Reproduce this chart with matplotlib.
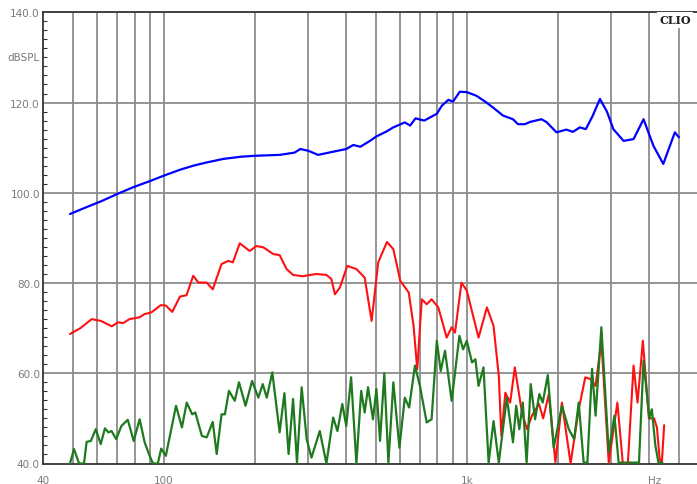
import numpy as np
import matplotlib.pyplot as plt

## DANE ##
# blue curve
blue_f = [49, 55, 62, 70, 79, 90, 100, 113, 125, 138,
          157, 180, 200, 241, 270, 282, 300, 323, 362, 400,
          422, 445, 479, 503, 540, 572, 624, 650, 677, 723,
          796, 827, 869, 900, 948, 1000, 1076, 1150, 1220, 1317,
          1420, 1475, 1555, 1616, 1762, 1830, 1977, 2130, 2240, 2360,
          2470, 2600, 2750, 2900, 3045, 3290, 3550, 3830, 4130, 4450,
          4860, 5010]
blue_db = [95.3, 96.7, 98.1, 99.7, 101.2, 102.6, 103.8, 105.1, 106.0, 106.7,
           107.5, 108.0, 108.2, 108.4, 108.9, 109.7, 109.3, 108.4, 109.1, 109.7,
           110.6, 110.2, 111.5, 112.5, 113.5, 114.5, 115.6, 114.9, 116.5, 116.0,
           117.5, 119.3, 120.6, 120.2, 122.4, 122.3, 121.5, 120.2, 118.9, 117.1,
           116.3, 115.2, 115.2, 115.7, 116.3, 115.7, 113.4, 114.0, 113.5, 114.5,
           114.1, 117.0, 120.8, 118.0, 114.1, 111.5, 111.9, 116.3, 110.4, 106.4,
           113.4, 112.3]

# red curve
red_f = [49, 53, 57.8, 62, 67.3, 70.6, 73.3, 77, 83, 86.3,
         91, 97.7, 101.5, 106.6, 113, 118.8, 125, 130, 138.5, 145,
         155, 163, 169, 178, 192, 202, 213, 230, 241, 254,
         267, 287, 318, 344, 357, 367, 381, 403, 432, 460,
         485, 510, 545, 572, 603, 643, 667, 686, 710, 737,
         765, 805, 858, 891, 914, 960, 1000, 1093, 1165, 1225,
         1275, 1300, 1340, 1390, 1440, 1520, 1580, 1640, 1730, 1786,
         1865, 1960, 2060, 2200, 2340, 2460, 2560, 2660, 2780, 2940,
         3140, 3270, 3400, 3550, 3660, 3810, 3990, 4150, 4240, 4330,
         4400, 4480]
red_db = [68.7, 70.0, 72.0, 71.6, 70.4, 71.3, 71.1, 72.0, 72.4, 73.1,
          73.5, 75.1, 75.0, 73.6, 77.0, 77.3, 81.6, 80.1, 80.1, 78.6,
          84.2, 84.9, 84.6, 88.8, 87.1, 88.2, 87.9, 86.4, 86.2, 83.1,
          81.8, 81.5, 82.0, 81.8, 80.9, 77.5, 79.0, 83.8, 83.1, 81.2,
          71.6, 84.6, 89.1, 87.5, 80.5, 77.9, 70.5, 60.9, 76.4, 75.3,
          76.4, 74.6, 67.9, 70.2, 69.0, 80.1, 78.3, 67.9, 74.6, 70.5,
          59.4, 46.1, 55.7, 53.5, 61.3, 51.3, 47.6, 50.6, 53.2, 50.0,
          55.4, 40.3, 53.5, 40.0, 52.0, 59.1, 58.7, 57.2, 67.2, 40.2,
          53.5, 40.2, 40.0, 61.7, 53.5, 67.2, 50.0, 50.0, 48.0, 41.0,
          40.0, 48.5]

# green curve
green_f = [49, 50.5, 52.5, 54.5, 55.6, 57.4, 59.6, 61.9, 63.9, 65.6,
           67.2, 69.6, 72.4, 76, 79.5, 83.2, 86.4, 89.3, 92, 95.5,
           98, 101.5, 109.7, 114.7, 119, 124, 127, 133.5, 138.5, 145,
           149.4, 155, 159, 164, 171.4, 177, 186, 195.5, 205, 212,
           218.6, 228, 241, 250, 258, 267, 275, 285, 296, 307,
           327, 344, 362, 374, 388, 400, 415, 432, 448, 460,
           472, 490, 503, 517, 534, 551, 572, 599, 624, 645,
           674, 700, 737, 765, 796, 820, 847, 891, 945, 972,
           1000, 1040, 1067, 1093, 1135, 1180, 1225, 1275, 1355, 1420,
           1455, 1490, 1530, 1575, 1625, 1680, 1735, 1780, 1850, 1935,
           2060, 2170, 2260, 2340, 2430, 2500, 2590, 2660, 2780, 2940,
           3070, 3170, 3700, 3830, 4000, 4080, 4190, 4290, 4420]
green_db = [40.0, 43.2, 40.0, 40.0, 44.8, 45.0, 47.6, 44.3, 47.8, 46.9,
            47.2, 45.4, 48.3, 49.7, 45.0, 49.8, 44.7, 42.1, 40.0, 40.0,
            43.3, 41.7, 52.8, 48.0, 53.5, 50.9, 51.3, 46.1, 45.8, 49.2,
            42.1, 50.9, 50.9, 56.1, 53.9, 58.0, 52.8, 58.3, 54.6, 57.6,
            54.6, 60.2, 46.9, 55.6, 42.1, 54.3, 40.2, 56.9, 45.4, 41.3,
            47.2, 40.0, 50.2, 47.2, 53.2, 48.3, 59.1, 40.0, 56.1, 51.3,
            56.9, 49.8, 56.5, 45.0, 60.0, 40.2, 58.0, 43.5, 54.6, 52.4,
            61.7, 57.2, 49.1, 49.8, 67.2, 60.5, 65.0, 53.9, 68.3, 65.3,
            67.2, 62.4, 63.1, 57.2, 61.3, 40.2, 49.4, 40.2, 54.6, 44.7,
            52.8, 47.6, 53.5, 40.2, 57.6, 49.8, 55.4, 53.5, 59.6, 43.5,
            52.8, 47.6, 45.4, 53.5, 40.2, 40.2, 61.0, 50.6, 70.2, 42.6,
            50.6, 40.2, 40.2, 62.8, 50.0, 52.0, 44.0, 40.2, 40.2]

# axes
x_grid = [50, 60, 70, 80, 90, 100, 200, 300, 400, 500, 600, 700, 800, 900,
          1000, 2000, 3000, 4000, 5000]
y_grid = [60, 80, 100, 120]
x_ticks = [40, 100, 1000, 4180]
x_labels = ['40', '100', '1k', 'Hz']
y_ticks = [40, 60, 80, 100, 120, 140]

## WYKRES ##
W, H = 697, 485
fig = plt.figure(figsize=(W/100, H/100), dpi=100)
ax = fig.add_axes([43.3/W, (H-464.5)/H, (W-43.3)/W, (464.5-13.3)/H])
ax.set_xscale('log')
ax.set_xlim(40, 5750)
ax.set_ylim(40, 140)

gc = '#8c8c8c'
for f in x_grid:
    ax.axvline(f, color=gc, lw=1.3, zorder=1)
for g in y_grid:
    ax.axhline(g, color=gc, lw=1.3, zorder=1)

kw = dict(solid_joinstyle='round', solid_capstyle='round', zorder=3)
ax.plot(blue_f, blue_db, color='#0000ff', lw=1.6, **kw)
ax.plot(red_f, red_db, color='#ff1010', lw=1.5, **kw)
ax.plot(green_f, green_db, color='#1f7a1f', lw=1.6, **kw)

ax.set_xticks(x_ticks)
ax.set_xticklabels(x_labels)
ax.xaxis.set_minor_locator(plt.NullLocator())
ax.set_yticks(y_ticks)
ax.set_yticklabels(['%.1f' % v for v in y_ticks])
ax.set_yticks(np.arange(40, 141, 2), minor=True)
ax.tick_params(axis='x', length=0, pad=8, labelsize=7.5, labelcolor='#7a7a7a')
ax.tick_params(axis='y', which='major', length=0, pad=2.5, labelsize=7.5,
               labelcolor='#7a7a7a')
ax.tick_params(axis='y', which='minor', direction='in', length=3, width=0.8,
               color='#333333')

for s in ['left', 'top', 'bottom']:
    ax.spines[s].set_color('#333333')
    ax.spines[s].set_linewidth(1.3)
ax.spines['right'].set_visible(False)

fig.text(40/W, 1-58/H, 'dBSPL', ha='right', va='center', fontsize=7.5,
         color='#7a7a7a')
fig.text(675/W, 1-21/H, 'CLIO', ha='center', va='center', fontsize=8,
         family='DejaVu Serif', fontweight='bold', color='#222222',
         bbox=dict(facecolor='white', edgecolor='none', pad=1.5), zorder=5)

plt.savefig('out.png', dpi=100)
